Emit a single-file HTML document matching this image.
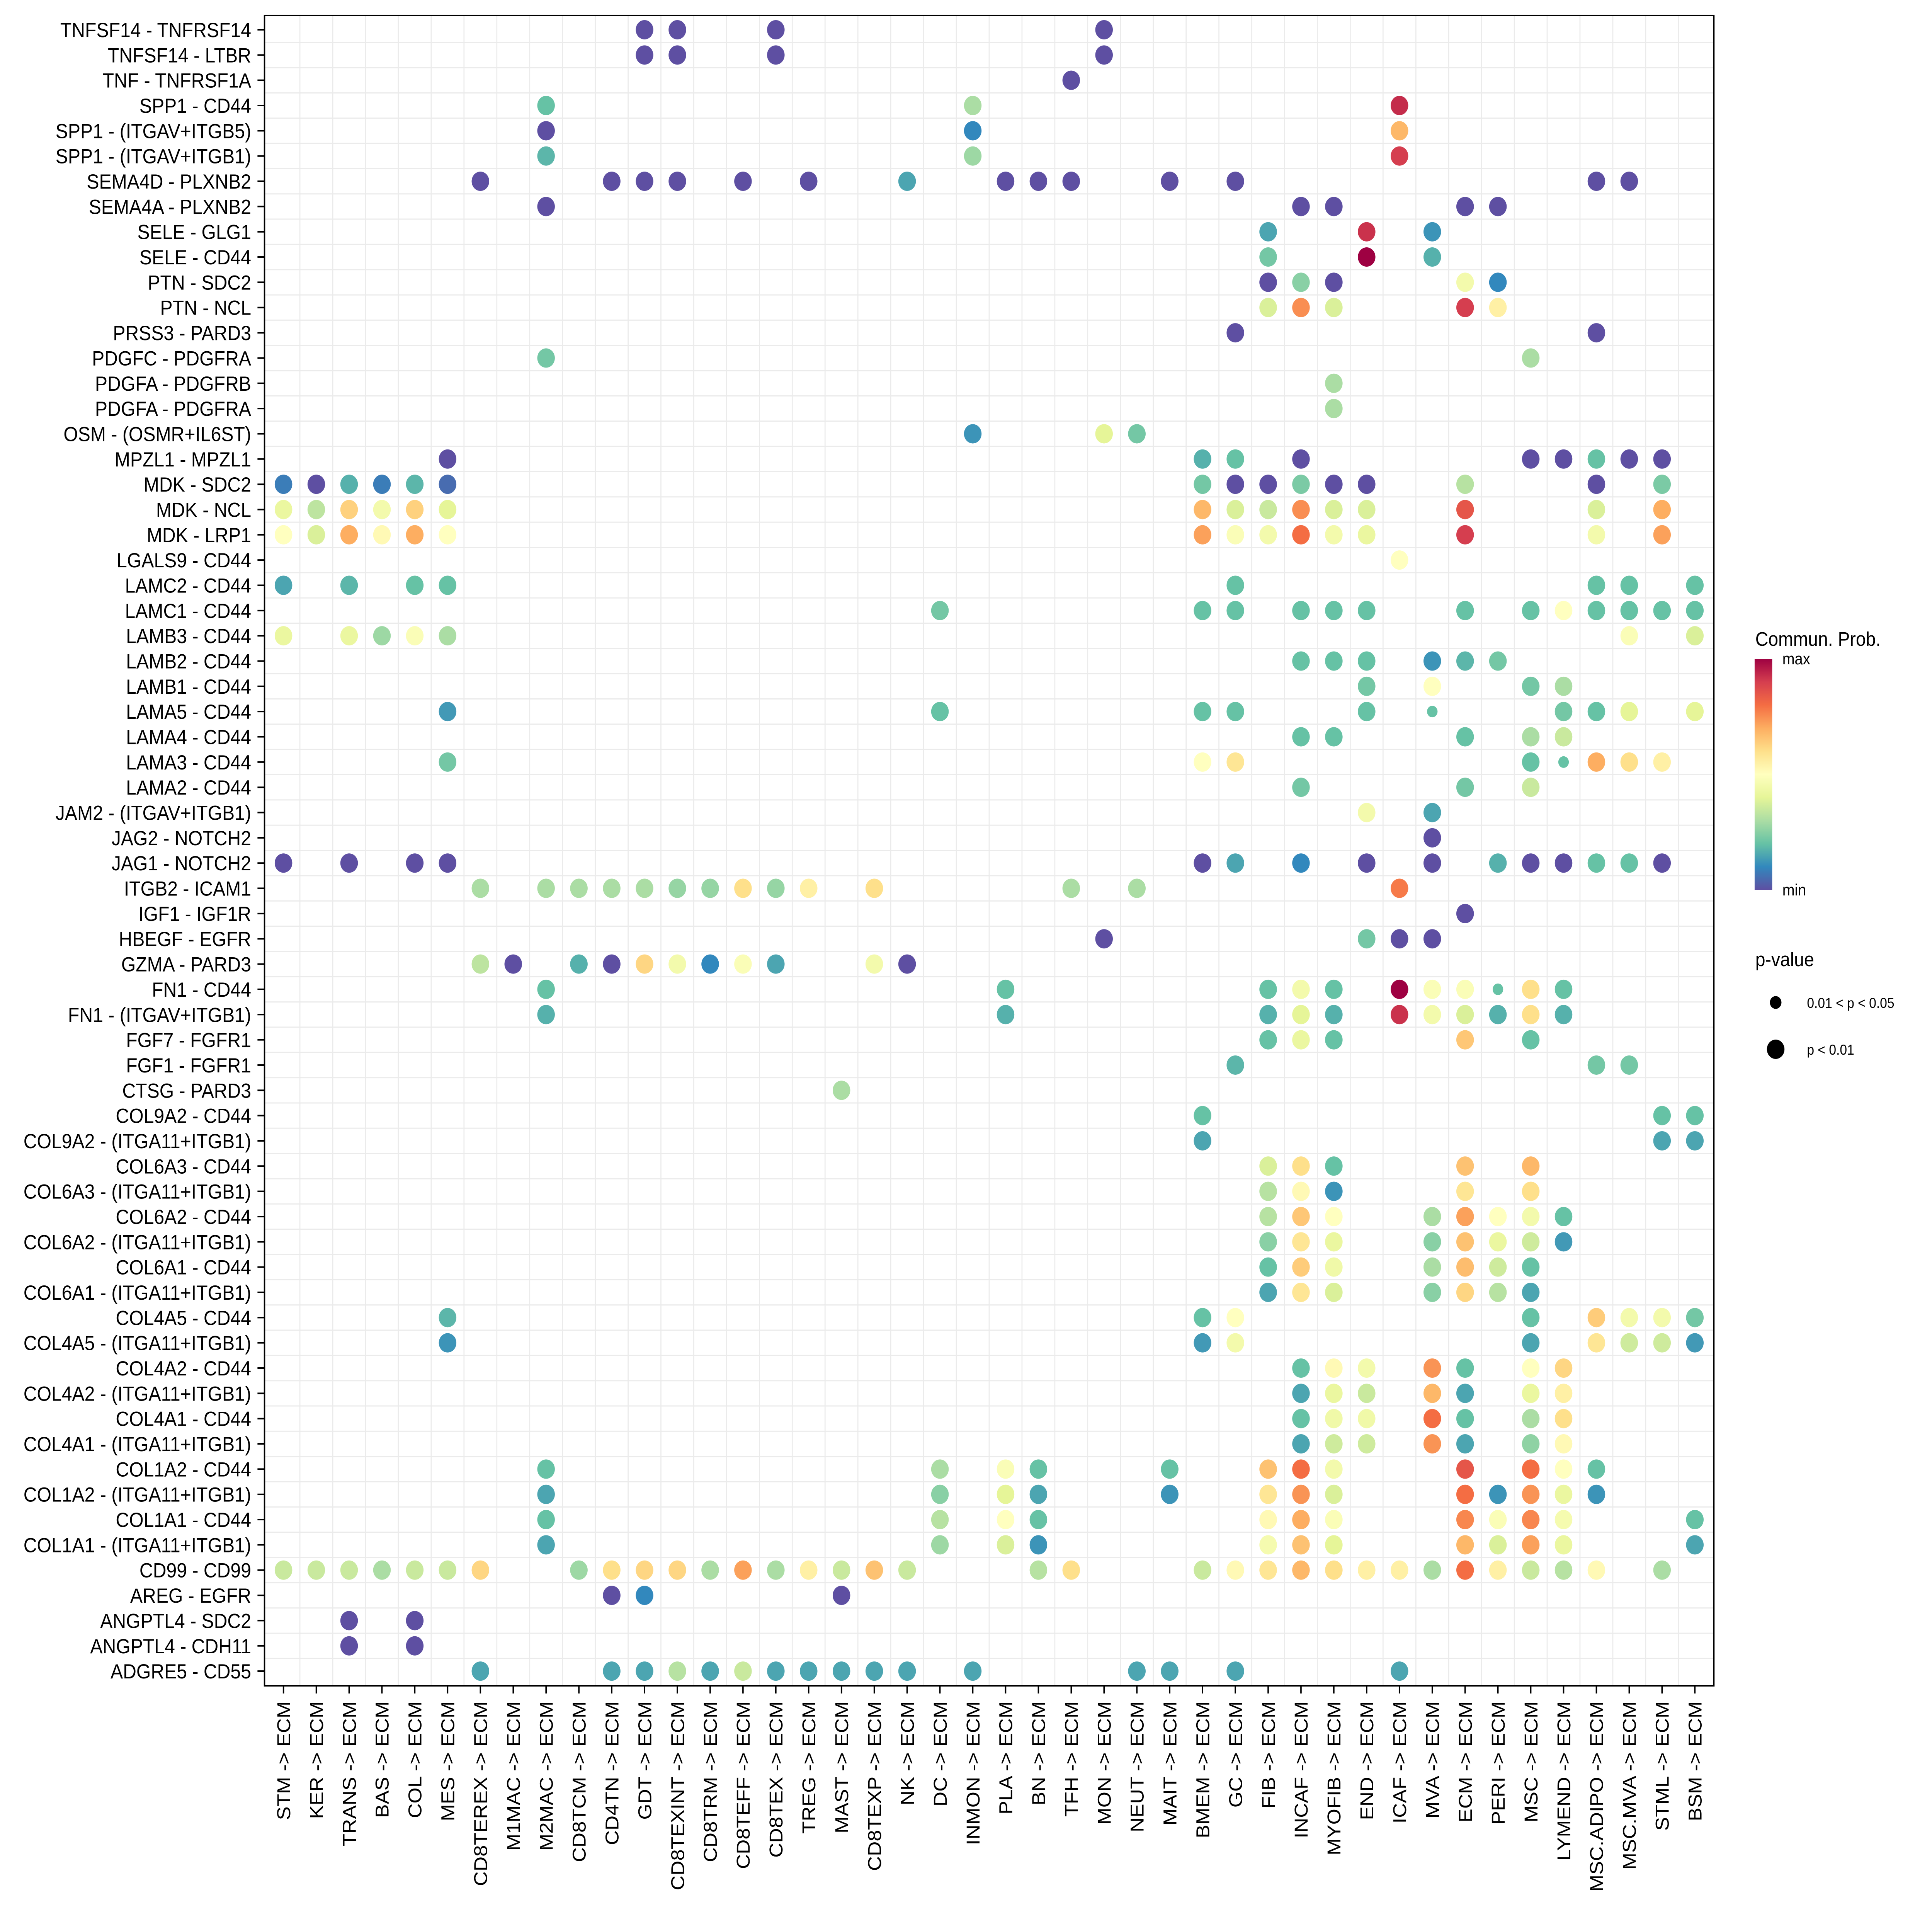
<!DOCTYPE html>
<html><head><meta charset="utf-8">
<style>
html,body{margin:0;padding:0;background:#fff;overflow:hidden;width:100%;height:100%;}
svg{display:block;position:absolute;left:0;top:0;width:100vw;height:100vh;font-family:"Liberation Sans",Arial,sans-serif;}
</style></head>
<body>
<svg id="chart" viewBox="0 0 5500 4950" preserveAspectRatio="none" xmlns="http://www.w3.org/2000/svg">
<rect x="0" y="0" width="5500" height="4950" fill="#fff"/>
<g id="grid"></g>
<g id="dots"></g>
<g id="yaxis"></g>
<g id="xaxis"></g>
<rect x="753" y="40" width="4126" height="4322" fill="none" stroke="#000" stroke-width="4"/>
<g>
  <text x="4997" y="1671" font-size="51">Commun. Prob.</text>
  <defs>
    <linearGradient id="spec" x1="0" y1="1" x2="0" y2="0">
      <stop offset="0" stop-color="#5e4fa2"/><stop offset="0.1" stop-color="#3288bd"/>
      <stop offset="0.2" stop-color="#66c2a5"/><stop offset="0.3" stop-color="#abdda4"/>
      <stop offset="0.4" stop-color="#e6f598"/><stop offset="0.5" stop-color="#ffffbf"/>
      <stop offset="0.6" stop-color="#fee08b"/><stop offset="0.7" stop-color="#fdae61"/>
      <stop offset="0.8" stop-color="#f46d43"/><stop offset="0.9" stop-color="#d53e4f"/>
      <stop offset="1" stop-color="#9e0142"/>
    </linearGradient>
  </defs>
  <rect x="4995" y="1705" width="50" height="598" fill="url(#spec)"/>
  <text x="5074" y="1719" font-size="42">max</text>
  <text x="5074" y="2317" font-size="42">min</text>
</g>
<g>
  <text x="4997" y="2500" font-size="51">p-value</text>
  <circle cx="5055" cy="2594" r="16.5" fill="#000"/>
  <text x="5144" y="2608" font-size="37">0.01 &lt; p &lt; 0.05</text>
  <circle cx="5055" cy="2715" r="25" fill="#000"/>
  <text x="5144" y="2729" font-size="37">p &lt; 0.01</text>
</g>
</svg>
<script>
const rowLabels = ["TNFSF14 - TNFRSF14","TNFSF14 - LTBR","TNF - TNFRSF1A","SPP1 - CD44","SPP1 - (ITGAV+ITGB5)","SPP1 - (ITGAV+ITGB1)","SEMA4D - PLXNB2","SEMA4A - PLXNB2","SELE - GLG1","SELE - CD44","PTN - SDC2","PTN - NCL","PRSS3 - PARD3","PDGFC - PDGFRA","PDGFA - PDGFRB","PDGFA - PDGFRA","OSM - (OSMR+IL6ST)","MPZL1 - MPZL1","MDK - SDC2","MDK - NCL","MDK - LRP1","LGALS9 - CD44","LAMC2 - CD44","LAMC1 - CD44","LAMB3 - CD44","LAMB2 - CD44","LAMB1 - CD44","LAMA5 - CD44","LAMA4 - CD44","LAMA3 - CD44","LAMA2 - CD44","JAM2 - (ITGAV+ITGB1)","JAG2 - NOTCH2","JAG1 - NOTCH2","ITGB2 - ICAM1","IGF1 - IGF1R","HBEGF - EGFR","GZMA - PARD3","FN1 - CD44","FN1 - (ITGAV+ITGB1)","FGF7 - FGFR1","FGF1 - FGFR1","CTSG - PARD3","COL9A2 - CD44","COL9A2 - (ITGA11+ITGB1)","COL6A3 - CD44","COL6A3 - (ITGA11+ITGB1)","COL6A2 - CD44","COL6A2 - (ITGA11+ITGB1)","COL6A1 - CD44","COL6A1 - (ITGA11+ITGB1)","COL4A5 - CD44","COL4A5 - (ITGA11+ITGB1)","COL4A2 - CD44","COL4A2 - (ITGA11+ITGB1)","COL4A1 - CD44","COL4A1 - (ITGA11+ITGB1)","COL1A2 - CD44","COL1A2 - (ITGA11+ITGB1)","COL1A1 - CD44","COL1A1 - (ITGA11+ITGB1)","CD99 - CD99","AREG - EGFR","ANGPTL4 - SDC2","ANGPTL4 - CDH11","ADGRE5 - CD55"];
const colLabels = ["STM","KER","TRANS","BAS","COL","MES","CD8TEREX","M1MAC","M2MAC","CD8TCM","CD4TN","GDT","CD8TEXINT","CD8TRM","CD8TEFF","CD8TEX","TREG","MAST","CD8TEXP","NK","DC","INMON","PLA","BN","TFH","MON","NEUT","MAIT","BMEM","GC","FIB","INCAF","MYOFIB","END","ICAF","MVA","ECM","PERI","MSC","LYMEND","MSC.ADIPO","MSC.MVA","STML","BSM"];
// values: [row index, column label, relative probability 0..1]
const points = [
[0,"GDT",0],[0,"CD8TEXINT",0],[0,"CD8TEX",0],[0,"MON",0],
[1,"GDT",0],[1,"CD8TEXINT",0],[1,"CD8TEX",0],[1,"MON",0],
[2,"TFH",0],
[3,"M2MAC",0.2],[3,"INMON",0.3],[3,"ICAF",0.93],
[4,"M2MAC",0],[4,"INMON",0.1],[4,"ICAF",0.68],
[5,"M2MAC",0.18],[5,"INMON",0.28],[5,"ICAF",0.9],
[6,"CD8TEREX",0],[6,"CD4TN",0],[6,"GDT",0],[6,"CD8TEXINT",0],[6,"CD8TEFF",0],[6,"TREG",0],[6,"NK",0.15],[6,"PLA",0],[6,"BN",0],[6,"TFH",0],[6,"MAIT",0],[6,"GC",0],[6,"MSC.ADIPO",0],[6,"MSC.MVA",0],
[7,"M2MAC",0],[7,"INCAF",0],[7,"MYOFIB",0],[7,"ECM",0],[7,"PERI",0],
[8,"FIB",0.15],[8,"END",0.92],[8,"MVA",0.12],
[9,"FIB",0.22],[9,"END",1.0],[9,"MVA",0.17],
[10,"FIB",0],[10,"INCAF",0.25],[10,"MYOFIB",0],[10,"ECM",0.45],[10,"PERI",0.1],
[11,"FIB",0.38],[11,"INCAF",0.75],[11,"MYOFIB",0.38],[11,"ECM",0.9],[11,"PERI",0.55],
[12,"GC",0],[12,"MSC.ADIPO",0],
[13,"M2MAC",0.22],[13,"MSC",0.3],
[14,"MYOFIB",0.3],
[15,"MYOFIB",0.3],
[16,"INMON",0.12],[16,"MON",0.4],[16,"NEUT",0.22],
[17,"MES",0],[17,"BMEM",0.17],[17,"GC",0.2],[17,"INCAF",0],[17,"MSC",0],[17,"LYMEND",0],[17,"MSC.ADIPO",0.2],[17,"MSC.MVA",0],[17,"STML",0],
[18,"STM",0.08],[18,"KER",0],[18,"TRANS",0.17],[18,"BAS",0.08],[18,"COL",0.18],[18,"MES",0.05],[18,"BMEM",0.22],[18,"GC",0],[18,"FIB",0],[18,"INCAF",0.23],[18,"MYOFIB",0],[18,"END",0],[18,"ECM",0.32],[18,"MSC.ADIPO",0],[18,"STML",0.23],
[19,"STM",0.42],[19,"KER",0.33],[19,"TRANS",0.63],[19,"BAS",0.45],[19,"COL",0.63],[19,"MES",0.4],[19,"BMEM",0.68],[19,"GC",0.38],[19,"FIB",0.35],[19,"INCAF",0.75],[19,"MYOFIB",0.38],[19,"END",0.38],[19,"ECM",0.85],[19,"MSC.ADIPO",0.38],[19,"STML",0.7],
[20,"STM",0.5],[20,"KER",0.38],[20,"TRANS",0.7],[20,"BAS",0.52],[20,"COL",0.7],[20,"MES",0.5],[20,"BMEM",0.72],[20,"GC",0.48],[20,"FIB",0.45],[20,"INCAF",0.8],[20,"MYOFIB",0.45],[20,"END",0.42],[20,"ECM",0.9],[20,"MSC.ADIPO",0.45],[20,"STML",0.72],
[21,"ICAF",0.5],
[22,"STM",0.15],[22,"TRANS",0.18],[22,"COL",0.2],[22,"MES",0.2],[22,"GC",0.2],[22,"MSC.ADIPO",0.2],[22,"MSC.MVA",0.2],[22,"BSM",0.2],
[23,"DC",0.22],[23,"BMEM",0.2],[23,"GC",0.2],[23,"INCAF",0.2],[23,"MYOFIB",0.2],[23,"END",0.2],[23,"ECM",0.2],[23,"MSC",0.2],[23,"LYMEND",0.5],[23,"MSC.ADIPO",0.2],[23,"MSC.MVA",0.2],[23,"STML",0.2],[23,"BSM",0.2],
[24,"STM",0.42],[24,"TRANS",0.42],[24,"BAS",0.28],[24,"COL",0.48],[24,"MES",0.3],[24,"MSC.MVA",0.48],[24,"BSM",0.38],
[25,"INCAF",0.2],[25,"MYOFIB",0.2],[25,"END",0.2],[25,"MVA",0.12],[25,"ECM",0.18],[25,"PERI",0.22],
[26,"END",0.22],[26,"MVA",0.5],[26,"MSC",0.22],[26,"LYMEND",0.3],
[27,"MES",0.13],[27,"DC",0.2],[27,"BMEM",0.2],[27,"GC",0.2],[27,"END",0.2],[27,"MVA",0.2],[27,"LYMEND",0.22],[27,"MSC.ADIPO",0.2],[27,"MSC.MVA",0.4],[27,"BSM",0.4],
[28,"INCAF",0.2],[28,"MYOFIB",0.2],[28,"ECM",0.2],[28,"MSC",0.3],[28,"LYMEND",0.35],
[29,"MES",0.22],[29,"BMEM",0.5],[29,"GC",0.58],[29,"MSC",0.2],[29,"LYMEND",0.2],[29,"MSC.ADIPO",0.7],[29,"MSC.MVA",0.6],[29,"STML",0.55],
[30,"INCAF",0.22],[30,"ECM",0.22],[30,"MSC",0.35],
[31,"END",0.45],[31,"MVA",0.15],
[32,"MVA",0],
[33,"STM",0],[33,"TRANS",0],[33,"COL",0],[33,"MES",0],[33,"BMEM",0],[33,"GC",0.15],[33,"INCAF",0.1],[33,"END",0],[33,"MVA",0],[33,"PERI",0.17],[33,"MSC",0],[33,"LYMEND",0],[33,"MSC.ADIPO",0.2],[33,"MSC.MVA",0.2],[33,"STML",0],
[34,"CD8TEREX",0.3],[34,"M2MAC",0.3],[34,"CD8TCM",0.3],[34,"CD4TN",0.3],[34,"GDT",0.3],[34,"CD8TEXINT",0.27],[34,"CD8TRM",0.27],[34,"CD8TEFF",0.6],[34,"CD8TEX",0.27],[34,"TREG",0.55],[34,"CD8TEXP",0.6],[34,"TFH",0.3],[34,"NEUT",0.3],[34,"ICAF",0.78],
[35,"ECM",0],
[36,"MON",0],[36,"END",0.22],[36,"ICAF",0],[36,"MVA",0],
[37,"CD8TEREX",0.33],[37,"M1MAC",0],[37,"CD8TCM",0.17],[37,"CD4TN",0],[37,"GDT",0.62],[37,"CD8TEXINT",0.45],[37,"CD8TRM",0.1],[37,"CD8TEFF",0.48],[37,"CD8TEX",0.15],[37,"CD8TEXP",0.45],[37,"NK",0],
[38,"M2MAC",0.2],[38,"PLA",0.2],[38,"FIB",0.2],[38,"INCAF",0.45],[38,"MYOFIB",0.2],[38,"ICAF",1.0],[38,"MVA",0.48],[38,"ECM",0.48],[38,"PERI",0.2],[38,"MSC",0.6],[38,"LYMEND",0.2],
[39,"M2MAC",0.17],[39,"PLA",0.17],[39,"FIB",0.17],[39,"INCAF",0.4],[39,"MYOFIB",0.17],[39,"ICAF",0.92],[39,"MVA",0.45],[39,"ECM",0.38],[39,"PERI",0.17],[39,"MSC",0.6],[39,"LYMEND",0.17],
[40,"FIB",0.2],[40,"INCAF",0.42],[40,"MYOFIB",0.2],[40,"ECM",0.65],[40,"MSC",0.2],
[41,"GC",0.18],[41,"MSC.ADIPO",0.22],[41,"MSC.MVA",0.22],
[42,"MAST",0.3],
[43,"BMEM",0.2],[43,"STML",0.2],[43,"BSM",0.2],
[44,"BMEM",0.15],[44,"STML",0.15],[44,"BSM",0.15],
[45,"FIB",0.38],[45,"INCAF",0.6],[45,"MYOFIB",0.2],[45,"ECM",0.66],[45,"MSC",0.68],
[46,"FIB",0.32],[46,"INCAF",0.52],[46,"MYOFIB",0.12],[46,"ECM",0.58],[46,"MSC",0.6],
[47,"FIB",0.32],[47,"INCAF",0.65],[47,"MYOFIB",0.5],[47,"MVA",0.3],[47,"ECM",0.72],[47,"PERI",0.5],[47,"MSC",0.45],[47,"LYMEND",0.2],
[48,"FIB",0.25],[48,"INCAF",0.58],[48,"MYOFIB",0.42],[48,"MVA",0.25],[48,"ECM",0.66],[48,"PERI",0.42],[48,"MSC",0.36],[48,"LYMEND",0.13],
[49,"FIB",0.2],[49,"INCAF",0.64],[49,"MYOFIB",0.44],[49,"MVA",0.3],[49,"ECM",0.67],[49,"PERI",0.36],[49,"MSC",0.2],
[50,"FIB",0.15],[50,"INCAF",0.58],[50,"MYOFIB",0.38],[50,"MVA",0.25],[50,"ECM",0.62],[50,"PERI",0.32],[50,"MSC",0.15],
[51,"MES",0.18],[51,"BMEM",0.2],[51,"GC",0.5],[51,"MSC",0.2],[51,"MSC.ADIPO",0.64],[51,"MSC.MVA",0.45],[51,"STML",0.45],[51,"BSM",0.22],
[52,"MES",0.12],[52,"BMEM",0.13],[52,"GC",0.45],[52,"MSC",0.15],[52,"MSC.ADIPO",0.58],[52,"MSC.MVA",0.36],[52,"STML",0.36],[52,"BSM",0.13],
[53,"INCAF",0.2],[53,"MYOFIB",0.52],[53,"END",0.45],[53,"MVA",0.74],[53,"ECM",0.2],[53,"MSC",0.5],[53,"LYMEND",0.62],
[54,"INCAF",0.15],[54,"MYOFIB",0.42],[54,"END",0.35],[54,"MVA",0.68],[54,"ECM",0.15],[54,"MSC",0.42],[54,"LYMEND",0.55],
[55,"INCAF",0.2],[55,"MYOFIB",0.44],[55,"END",0.44],[55,"MVA",0.8],[55,"ECM",0.2],[55,"MSC",0.3],[55,"LYMEND",0.6],
[56,"INCAF",0.15],[56,"MYOFIB",0.36],[56,"END",0.36],[56,"MVA",0.74],[56,"ECM",0.15],[56,"MSC",0.26],[56,"LYMEND",0.52],
[57,"M2MAC",0.2],[57,"DC",0.3],[57,"PLA",0.48],[57,"BN",0.2],[57,"MAIT",0.2],[57,"FIB",0.66],[57,"INCAF",0.8],[57,"MYOFIB",0.45],[57,"ECM",0.85],[57,"MSC",0.8],[57,"LYMEND",0.5],[57,"MSC.ADIPO",0.2],
[58,"M2MAC",0.15],[58,"DC",0.25],[58,"PLA",0.4],[58,"BN",0.15],[58,"MAIT",0.12],[58,"FIB",0.58],[58,"INCAF",0.74],[58,"MYOFIB",0.38],[58,"ECM",0.8],[58,"PERI",0.12],[58,"MSC",0.74],[58,"LYMEND",0.42],[58,"MSC.ADIPO",0.12],
[59,"M2MAC",0.2],[59,"DC",0.32],[59,"PLA",0.5],[59,"BN",0.2],[59,"FIB",0.52],[59,"INCAF",0.7],[59,"MYOFIB",0.48],[59,"ECM",0.76],[59,"PERI",0.48],[59,"MSC",0.76],[59,"LYMEND",0.46],[59,"BSM",0.2],
[60,"M2MAC",0.15],[60,"DC",0.28],[60,"PLA",0.38],[60,"BN",0.12],[60,"FIB",0.46],[60,"INCAF",0.66],[60,"MYOFIB",0.4],[60,"ECM",0.68],[60,"PERI",0.38],[60,"MSC",0.72],[60,"LYMEND",0.42],[60,"BSM",0.15],
[61,"STM",0.35],[61,"KER",0.35],[61,"TRANS",0.35],[61,"BAS",0.3],[61,"COL",0.35],[61,"MES",0.35],[61,"CD8TEREX",0.62],[61,"CD8TCM",0.28],[61,"CD4TN",0.6],[61,"GDT",0.62],[61,"CD8TEXINT",0.62],[61,"CD8TRM",0.3],[61,"CD8TEFF",0.72],[61,"CD8TEX",0.3],[61,"TREG",0.55],[61,"MAST",0.35],[61,"CD8TEXP",0.66],[61,"NK",0.35],[61,"BN",0.32],[61,"TFH",0.6],[61,"BMEM",0.35],[61,"GC",0.52],[61,"FIB",0.58],[61,"INCAF",0.68],[61,"MYOFIB",0.6],[61,"END",0.55],[61,"ICAF",0.55],[61,"MVA",0.3],[61,"ECM",0.8],[61,"PERI",0.55],[61,"MSC",0.35],[61,"LYMEND",0.32],[61,"MSC.ADIPO",0.52],[61,"STML",0.3],
[62,"CD4TN",0],[62,"GDT",0.1],[62,"MAST",0],
[63,"TRANS",0],[63,"COL",0],
[64,"TRANS",0],[64,"COL",0],
[65,"CD8TEREX",0.15],[65,"CD4TN",0.15],[65,"GDT",0.15],[65,"CD8TEXINT",0.32],[65,"CD8TRM",0.15],[65,"CD8TEFF",0.35],[65,"CD8TEX",0.15],[65,"TREG",0.15],[65,"MAST",0.15],[65,"CD8TEXP",0.15],[65,"NK",0.15],[65,"INMON",0.15],[65,"NEUT",0.15],[65,"MAIT",0.15],[65,"GC",0.15],[65,"ICAF",0.15]
];
// cells with 0.01 < p < 0.05 (smaller dots): [row index, column label]
const weakPoints = [[27,"MVA"],[29,"LYMEND"],[38,"PERI"]];

const NS = "http://www.w3.org/2000/svg";
const X0 = 807, XSTEP = 93.44, Y0 = 77, YSTEP = 65.34;
const PL = 753, PR = 4879, PT = 40, PB = 4362;
function xScale(i){ return X0 + i*XSTEP; }
function yScale(i){ return Y0 + i*YSTEP; }
const stops = ["#5e4fa2","#3288bd","#66c2a5","#abdda4","#e6f598","#ffffbf","#fee08b","#fdae61","#f46d43","#d53e4f","#9e0142"];
function hex(c){ return [parseInt(c.substr(1,2),16),parseInt(c.substr(3,2),16),parseInt(c.substr(5,2),16)]; }
function colorScale(v){
  v = Math.max(0, Math.min(1, v));
  const t = v*10, i = Math.min(9, Math.floor(t)), f = t - i;
  const a = hex(stops[i]), b = hex(stops[i+1]);
  return "rgb(" + a.map((x,k)=>Math.round(x+(b[k]-x)*f)).join(",") + ")";
}
function mk(tag, attrs, parent){
  const e = document.createElementNS(NS, tag);
  for (const k in attrs) e.setAttribute(k, attrs[k]);
  parent.appendChild(e);
  return e;
}
const grid = document.getElementById("grid");
for (let i = 0; i < colLabels.length - 1; i++) {
  const gx = xScale(i + 0.5);
  const l = mk("line", {x1: gx, x2: gx, y1: PT, y2: PB, stroke: "#ebebeb", "stroke-width": 3}, grid);
  
  
}
for (let i = 0; i < rowLabels.length - 1; i++) {
  const gy = yScale(i + 0.5);
  const l = mk("line", {x1: PL, x2: PR, y1: gy, y2: gy, stroke: "#ebebeb", "stroke-width": 3}, grid);
  
  
}
const yaxis = document.getElementById("yaxis");
rowLabels.forEach((lab, i) => {
  const y = yScale(i);
  const t = mk("line", {x1: PL - 20, x2: PL, y1: y, y2: y, stroke: "#000", "stroke-width": 4}, yaxis);
  
  
  const tx = mk("text", {x: 715, y: y + 19, "font-size": 53, "text-anchor": "end"}, yaxis);
  tx.textContent = lab;
  
  
});
const xaxis = document.getElementById("xaxis");
colLabels.forEach((lab, i) => {
  const x = xScale(i);
  const t = mk("line", {x1: x, x2: x, y1: PB, y2: PB + 20, stroke: "#000", "stroke-width": 4}, xaxis);
  
  
  const tx = mk("text", {x: 0, y: 0, "font-size": 53, "text-anchor": "end", transform: "translate(" + (x + 19) + ",4402) rotate(-90)"}, xaxis);
  tx.textContent = lab + " -> ECM";
  
  
});
const dots = document.getElementById("dots");
points.forEach(p => {
  const ci = colLabels.indexOf(p[1]);
  const weak = weakPoints.some(w => w[0] === p[0] && w[1] === p[1]);
  const c = mk("circle", {cx: xScale(ci), cy: yScale(p[0]), r: weak ? 15 : 25, fill: colorScale(p[2])}, dots);
  
  
});
</script>
</body></html>
